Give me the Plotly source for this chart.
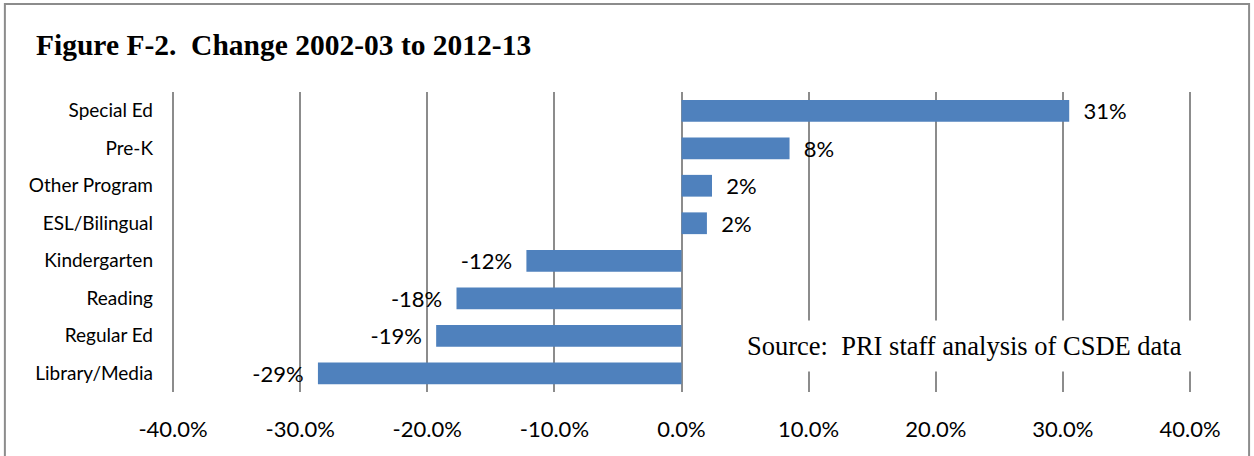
import plotly.graph_objects as go

# Percent change by program, 2002-03 to 2012-13
programs = ['Special Ed', 'Pre-K', 'Other Program', 'ESL/Bilingual',
            'Kindergarten', 'Reading', 'Regular Ed', 'Library/Media']
change = [0.305, 0.085, 0.024, 0.020, -0.122, -0.177, -0.193, -0.286]
labels = ['31%', '8%', '2%', '2%', '-12%', '-18%', '-19%', '-29%']
tick_vals = [-0.4, -0.3, -0.2, -0.1, 0.0, 0.1, 0.2, 0.3, 0.4]
tick_text = ['-40.0%', '-30.0%', '-20.0%', '-10.0%', '0.0%',
             '10.0%', '20.0%', '30.0%', '40.0%']

# pad labels so they sit a bit off the bar end like the Excel original
padded = [('\u00a0\u00a0' + t) if v > 0 else (t + '\u00a0\u00a0')
          for t, v in zip(labels, change)]

fig = go.Figure()
fig.add_trace(go.Bar(x=change, y=programs, orientation='h',
                     marker=dict(color='#4f81bd', line=dict(width=0)),
                     width=0.58,
                     text=padded, textposition='outside', cliponaxis=False,
                     constraintext='none',
                     textfont=dict(family='Lato', size=22, color='black'),
                     hoverinfo='x+y'))

grid_col = '#8c8c8c'
fig.update_layout(
    width=1254, height=456,
    margin=dict(l=172, r=63, t=92, b=64),
    paper_bgcolor='white', plot_bgcolor='white',
    showlegend=False,
    xaxis=dict(range=[-0.4008, 0.4008], tickvals=tick_vals, ticktext=tick_text,
               showgrid=True, gridcolor=grid_col, gridwidth=2,
               zeroline=True, zerolinecolor=grid_col, zerolinewidth=2,
               showline=False, ticks='', ticklabelstandoff=22,
               automargin=False,
               tickfont=dict(family='Lato', size=22, color='black')),
    yaxis=dict(autorange='reversed', showgrid=False, showline=False,
               ticks='', ticklabelstandoff=18, automargin=False,
               tickfont=dict(family='Lato', size=19, color='black')),
    font=dict(family='Lato', color='black'),
)

# outer frame
fig.add_shape(type='rect', xref='paper', yref='paper',
              x0=-0.164, x1=1.057, y0=-0.24, y1=1.293,
              line=dict(color='#8c8c8c', width=2), fillcolor='rgba(0,0,0,0)')

fig.add_annotation(text='<b>Figure F-2.  Change 2002-03 to 2012-13</b>',
                   xref='paper', yref='paper', x=-0.135, y=1.157,
                   xanchor='left', yanchor='middle', showarrow=False,
                   font=dict(family='Liberation Serif', size=29.5, color='black'))

# source note sits in a white box that hides the gridlines behind it
fig.add_annotation(text='Source:  PRI staff analysis of CSDE data',
                   xref='paper', yref='paper', x=0.778, y=0.153,
                   xanchor='center', yanchor='middle', showarrow=False,
                   bgcolor='white', borderpad=10,
                   font=dict(family='Liberation Serif', size=26.5, color='black'))

# drop the default page margin so the figure sits flush with the window
fig.write_html('out.html', config={'displayModeBar': False},
               post_script="document.body.style.margin='0';")
